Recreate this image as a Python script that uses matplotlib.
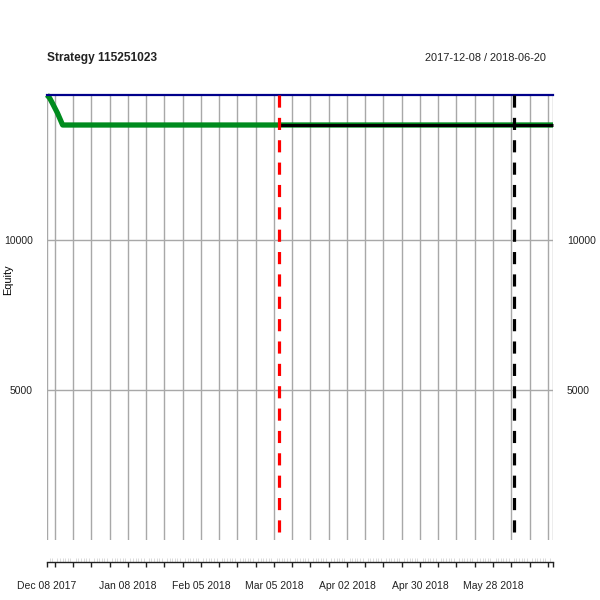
import numpy as np
import pandas as pd
import matplotlib
matplotlib.use("Agg")
import matplotlib.pyplot as plt
import matplotlib.dates as mdates

plt.rcParams['font.family'] = ['Liberation Sans', 'DejaVu Sans']

# ---- data ----
start_date = "2017-12-08"
end_date = "2018-06-20"
dates = pd.date_range(start_date, end_date, freq="D")
drop_values = [14830, 14730, 14570, 14400, 14230, 14030, 13830]
flat_level = 13830
equity = drop_values + [flat_level] * (len(dates) - len(drop_values))
hwm_level = 14830
oos_start = "2018-03-07"
live_marker = "2018-06-05"
title = "Strategy 115251023"
range_text = "2017-12-08 / 2018-06-20"
ytick_vals = [5000, 10000]
ytick_labels = ["5000", "10000"]
label_dates = ["2017-12-08", "2018-01-08", "2018-02-05", "2018-03-05",
               "2018-04-02", "2018-04-30", "2018-05-28"]
label_texts = ["Dec 08 2017", "Jan 08 2018", "Feb 05 2018", "Mar 05 2018",
               "Apr 02 2018", "Apr 30 2018", "May 28 2018"]

eq = pd.Series(equity, index=dates)
PX = 0.72  # points per pixel at dpi 100

fig = plt.figure(figsize=(6, 6), dpi=100)
ax = fig.add_axes([47/600, 60/600, 506/600, 445/600])

ymax = max(eq.max(), hwm_level)
ax.set_ylim(0, ymax)
ax.set_xlim(dates[0], dates[-1])

# major ticks: start, every Monday, end
mondays = [d for d in dates if d.weekday() == 0]
major = [dates[0]] + mondays + [dates[-1]]
ax.set_xticks(major)
lab_map = {pd.Timestamp(d): t for d, t in zip(label_dates, label_texts)}
ax.set_xticklabels([lab_map.get(pd.Timestamp(d), "") for d in major])
ax.set_xticks(list(dates), minor=True)

gridc = "#A8A8A8"
for d in major:
    ax.axvline(d, color=gridc, lw=1.0, zorder=1)
for v in ytick_vals:
    ax.axhline(v, color=gridc, lw=1.0, zorder=1)

# lines
ax.plot(eq.index, eq.values, color="#008B1E", lw=3.8, zorder=3,
        solid_capstyle="butt", clip_on=False)
oos = eq[eq.index >= pd.Timestamp(oos_start)]
ax.plot(oos.index, oos.values, color="black", lw=2.2, zorder=4,
        solid_capstyle="butt", clip_on=False)
ax.plot([dates[0], dates[-1]], [hwm_level, hwm_level], color="#00008B",
        lw=1.6, zorder=5, clip_on=False)

for d, c in [(oos_start, "red"), (live_marker, "black")]:
    ax.plot([pd.Timestamp(d)] * 2, [ymax, 0], color=c, lw=2.3,
            linestyle=(0, (3.8, 3.2)), zorder=6, clip_on=False)

# y ticks: labels on both sides, no tick marks
ax.set_yticks(ytick_vals)
ax.set_yticklabels(ytick_labels)
ax.tick_params(axis="y", length=0, labelsize=7.5, labelcolor="#222222",
               left=False, right=False, labelleft=True, labelright=True,
               pad=14 * PX)

ax.tick_params(axis="x", which="major", direction="out", length=5 * PX,
               width=1, labelsize=7.5, labelcolor="#222222", color="#222222",
               pad=14 * PX)
ax.tick_params(axis="x", which="minor", direction="in", length=4 * PX,
               width=0.7, color="#DADADA")

for s in ["top", "right", "left"]:
    ax.spines[s].set_visible(False)
ax.spines["bottom"].set_position(("outward", 22 * PX))
ax.spines["bottom"].set_color("#222222")
ax.spines["bottom"].set_linewidth(1.0)

fig.text(47/600, 1 - 58/600, title, fontsize=8.6, fontweight="bold",
         color="#222222", ha="left", va="center")
fig.text(546/600, 1 - 58/600, range_text, fontsize=7.9,
         color="#222222", ha="right", va="center")
fig.text(8/600, 1 - 280/600, "Equity", fontsize=7.8, rotation=90,
         color="black", ha="center", va="center")

fig.savefig("out.png", dpi=100)
